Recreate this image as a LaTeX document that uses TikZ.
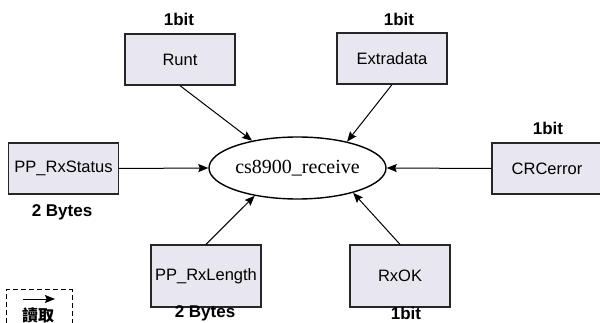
\documentclass[tikz,border=0pt]{standalone}
\usepackage{fontspec}
\setmainfont{Liberation Serif}
\setsansfont{Liberation Sans}
\newfontfamily\cjk{Noto Sans CJK TC}
\usetikzlibrary{shapes.geometric,arrows.meta}
\definecolor{boxfill}{RGB}{232,230,238}

\begin{document}
\begin{tikzpicture}[x=1pt,y=-1pt,>={Stealth[length=10pt,width=8pt,inset=1.5pt]}]
      \useasboundingbox (0,0) rectangle (600,323);

      \begin{scope}[every node/.style={rectangle,draw=black!85,line width=1.3pt,fill=boxfill,
          minimum width=110pt,minimum height=51pt,font=\sffamily\fontsize{16.5}{18}\selectfont}]
        \node (1) at (180,59.5)  {Runt};
        \node (2) at (392,58.5)  {Extradata};
        \node (3) at (63.5,168.5) {PP\_RxStatus};
        \node (4) at (547,168.5) {CRCerror};
        \node[minimum height=62pt] (5) at (206,276) {PP\_RxLength};
        \node[minimum height=62pt,minimum width=100pt] (6) at (400,276) {RxOK};
      \end{scope}

      \node[ellipse,draw,line width=1.4pt,minimum width=177pt,minimum height=62pt,inner sep=0pt,
        font=\fontsize{20}{22}\selectfont] (c) at (297.5,168) {cs8900\_receive};

      \begin{scope}[every node/.style={font=\sffamily\bfseries\fontsize{17}{19}\selectfont}]
        \node (b1) at (179,19)  {1bit};
        \node (b2) at (399,19)  {1bit};
        \node (b3) at (62,212)  {2 Bytes};
        \node (b4) at (548,128.5) {1bit};
        \node (b5) at (205,313) {2 Bytes};
        \node (b6) at (406,313) {1bit};
      \end{scope}

      \begin{scope}[every edge/.style={draw,->,line width=1pt}]
        \path (1.south) edge (c.149);
        \path (2.south) edge (c.28);
        \path (3.east)  edge (c.west);
        \path (4.west)  edge (c.east);
        \path (5.north) edge (c.213);
        \path (6.north) edge (c.-24);
      \end{scope}

      % legend
      \draw[dash pattern=on 5pt off 3pt,line width=1pt] (6,323) |- (72,290) -- (72,323);
      \coordinate (la) at (23,299);
      \coordinate (lb) at (55,299);
      \draw[->,line width=1pt] (la) -- (lb);
      \node[font=\cjk\bfseries\fontsize{16}{18}\selectfont] (lt) at (38,315) {讀取};

    \end{tikzpicture}
\end{document}
